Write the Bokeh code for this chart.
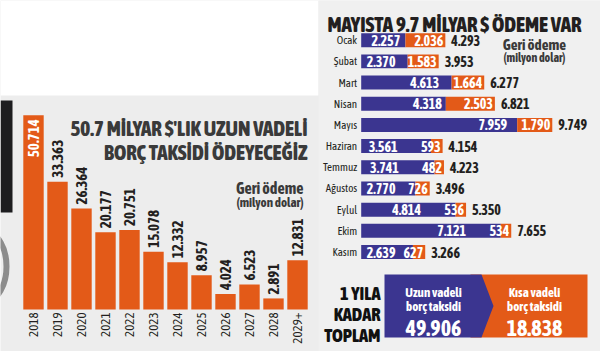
import math
from bokeh.plotting import figure
from bokeh.models import Range1d, ColumnDataSource
from bokeh.core.properties import value
from bokeh.embed import file_html
from bokeh.resources import INLINE

# ---------------- data ----------------
years = ["2018", "2019", "2020", "2021", "2022", "2023", "2024", "2025", "2026", "2027", "2028", "2029+"]
repayment = [50714, 33363, 26364, 20177, 20751, 15078, 12332, 8957, 4024, 6523, 2891, 12831]

months = ["Ocak", "Şubat", "Mart", "Nisan", "Mayıs", "Haziran", "Temmuz", "Ağustos", "Eylul", "Ekim", "Kasım"]
long_term = [2257, 2370, 4613, 4318, 7959, 3561, 3741, 2770, 4814, 7121, 2639]
short_term = [2036, 1583, 1664, 2503, 1790, 593, 482, 726, 536, 534, 627]

summary_line1 = ["Uzun vadeli", "Kısa vadeli"]
summary_line2 = ["borç taksidi", "borç taksidi"]
summary_values = [49906, 18838]


def fmt(v):
    return f"{v:,}".replace(",", ".")


COND = "Asap Condensed"
HEAVY = "Asap Condensed ExtraBold"

ORANGE = "#e35a18"
BLUE = "#3b3590"
DARK = "#231f20"
F = value(COND)
FH = value(HEAVY)

# ---------------- figure (screen-like base coordinates) ----------------
p = figure(width=600, height=351, x_range=Range1d(0, 600), y_range=Range1d(351, 0),
           output_backend="svg", toolbar_location=None, min_border=0,
           x_axis_type=None, y_axis_type=None,
           background_fill_color="#ededed", border_fill_color="#ededed",
           outline_line_color=None)
p.grid.visible = False

# scales for the two charts
p.extra_x_ranges = {
    "lx": Range1d(start=-33.0 / 24.0, end=(600 - 33.0) / 24.0),
    "rx": Range1d(start=-360.7 / 0.0196, end=(600 - 360.7) / 0.0196),
}
p.extra_y_ranges = {
    "ly": Range1d(start=(309 - 351) / 0.00383, end=309 / 0.00383),
    "ry": Range1d(start=(351 - 39.7) / 21.18, end=-39.7 / 21.18),
}

# ---------------- decorations ----------------
p.quad(left=[0], right=[318], top=[0], bottom=[95], fill_color="white", line_color=None)
p.quad(left=[318], right=[600], top=[0], bottom=[351], fill_color="#f0f0f0", line_color=None)
p.quad(left=[0], right=[12], top=[100], bottom=[212], fill_color="#1d1d1f", line_color=None)
p.ellipse(x=[-14], y=[266], width=[40], height=[68], fill_color=None, line_color="#8c8c8c", line_width=6)

# ---------------- left chart ----------------
lidx = list(range(len(years)))
p.vbar(x=lidx, top=repayment, bottom=0, width=0.85, fill_color=ORANGE, line_color=None,
       x_range_name="lx", y_range_name="ly")

src_out = ColumnDataSource(dict(x=lidx[1:], y=repayment[1:], t=[fmt(v) for v in repayment[1:]]))
p.text(x="x", y="y", text="t", source=src_out, angle=math.pi / 2, text_align="left",
       text_baseline="middle", y_offset=-4, text_font=F, text_font_style="bold",
       text_font_size="15px", text_color=DARK, x_range_name="lx", y_range_name="ly")
src_in = ColumnDataSource(dict(x=lidx[:1], y=repayment[:1], t=[fmt(v) for v in repayment[:1]]))
p.text(x="x", y="y", text="t", source=src_in, angle=math.pi / 2, text_align="right",
       text_baseline="middle", y_offset=4, text_font=F, text_font_style="bold",
       text_font_size="15px", text_color="white", x_range_name="lx", y_range_name="ly")

src_years = ColumnDataSource(dict(x=lidx, y=[0] * len(years), t=years))
p.text(x="x", y="y", text="t", source=src_years, angle=math.pi / 2, text_align="right",
       text_baseline="middle", y_offset=3, text_font=F, text_font_size="13px",
       text_color=DARK, x_range_name="lx", y_range_name="ly")

p.text(x=[307, 307], y=[127, 151], text=["50.7 MİLYAR $'LIK UZUN VADELİ", "BORÇ TAKSİDİ ÖDEYECEĞİZ"],
       text_align="right", text_baseline="alphabetic", text_font=FH,
       text_font_size="21px", text_color="#3a3a3a")
p.text(x=[303], y=[187], text=["Geri ödeme"], text_align="right", text_baseline="alphabetic",
       text_font=F, text_font_style="bold", text_font_size="16px", text_color="#3a3a3a")
p.text(x=[303], y=[202], text=["(milyon dolar)"], text_align="right", text_baseline="alphabetic",
       text_font=F, text_font_style="bold", text_font_size="13px", text_color="#3a3a3a")

# ---------------- right chart ----------------
p.text(x=[327], y=[23], text=["MAYISTA 9.7 MİLYAR $ ÖDEME VAR"], text_align="left",
       text_baseline="alphabetic", text_font=FH, text_font_size="21px",
       text_color=DARK)
p.text(x=[534], y=[44], text=["Geri ödeme"], text_align="center", text_baseline="alphabetic",
       text_font=F, text_font_style="bold", text_font_size="15px", text_color="#3a3a3a")
p.text(x=[534], y=[57], text=["(milyon dolar)"], text_align="center", text_baseline="alphabetic",
       text_font=F, text_font_style="bold", text_font_size="12px", text_color="#3a3a3a")

ridx = list(range(len(months)))
totals = [a + b for a, b in zip(long_term, short_term)]
p.hbar(y=ridx, left=0, right=long_term, height=0.66, fill_color=BLUE, line_color=None,
       x_range_name="rx", y_range_name="ry")
p.hbar(y=ridx, left=long_term, right=totals, height=0.66, fill_color=ORANGE, line_color=None,
       x_range_name="rx", y_range_name="ry")

p.text(x=[0] * len(months), y=ridx, text=months, x_offset=-4, text_align="right",
       text_baseline="middle", text_font=F, text_font_size="11px", text_color=DARK,
       x_range_name="rx", y_range_name="ry")

blue_anchor = []
for a, t in zip(long_term, totals):
    anc = min(a - 200, t - 2300)
    anc = max(anc, 300 + 1450)
    blue_anchor.append(anc)
p.text(x=blue_anchor, y=ridx, text=[fmt(v) for v in long_term], text_align="right",
       text_baseline="middle", text_font=F, text_font_style="bold", text_font_size="14px",
       text_color="white", x_range_name="rx", y_range_name="ry")
p.text(x=totals, y=ridx, text=[fmt(v) for v in short_term], x_offset=-2, text_align="right",
       text_baseline="middle", text_font=F, text_font_style="bold", text_font_size="14px",
       text_color="white", x_range_name="rx", y_range_name="ry")
p.text(x=totals, y=ridx, text=[fmt(v) for v in totals], x_offset=6, text_align="left",
       text_baseline="middle", text_font=F, text_font_style="bold", text_font_size="14px",
       text_color=DARK, x_range_name="rx", y_range_name="ry")

# ---------------- summary ----------------
p.text(x=[380, 380, 380], y=[293, 314, 335], text=["1 YILA", "KADAR", "TOPLAM"], text_align="right",
       text_baseline="alphabetic", text_font=FH, text_font_size="18.5px",
       text_color="#111111")
p.quad(left=[470], right=[587], top=[274], bottom=[337], fill_color=ORANGE, line_color=None)
p.patch(x=[384, 481, 493, 481, 384], y=[274, 274, 305.5, 337, 337], fill_color=BLUE, line_color=None)
cx = [433, 534]
p.text(x=cx, y=[292, 292], text=summary_line1, text_align="center", text_baseline="alphabetic",
       text_font=F, text_font_style="bold", text_font_size="13px", text_color="white")
p.text(x=cx, y=[306, 306], text=summary_line2, text_align="center", text_baseline="alphabetic",
       text_font=F, text_font_style="bold", text_font_size="13px", text_color="white")
p.text(x=cx, y=[327, 327], text=[fmt(v) for v in summary_values], text_align="center",
       text_baseline="alphabetic", text_font=F, text_font_style="bold", text_font_size="22px",
       text_color="white")

open("out.html", "w").write(file_html(p, INLINE))
